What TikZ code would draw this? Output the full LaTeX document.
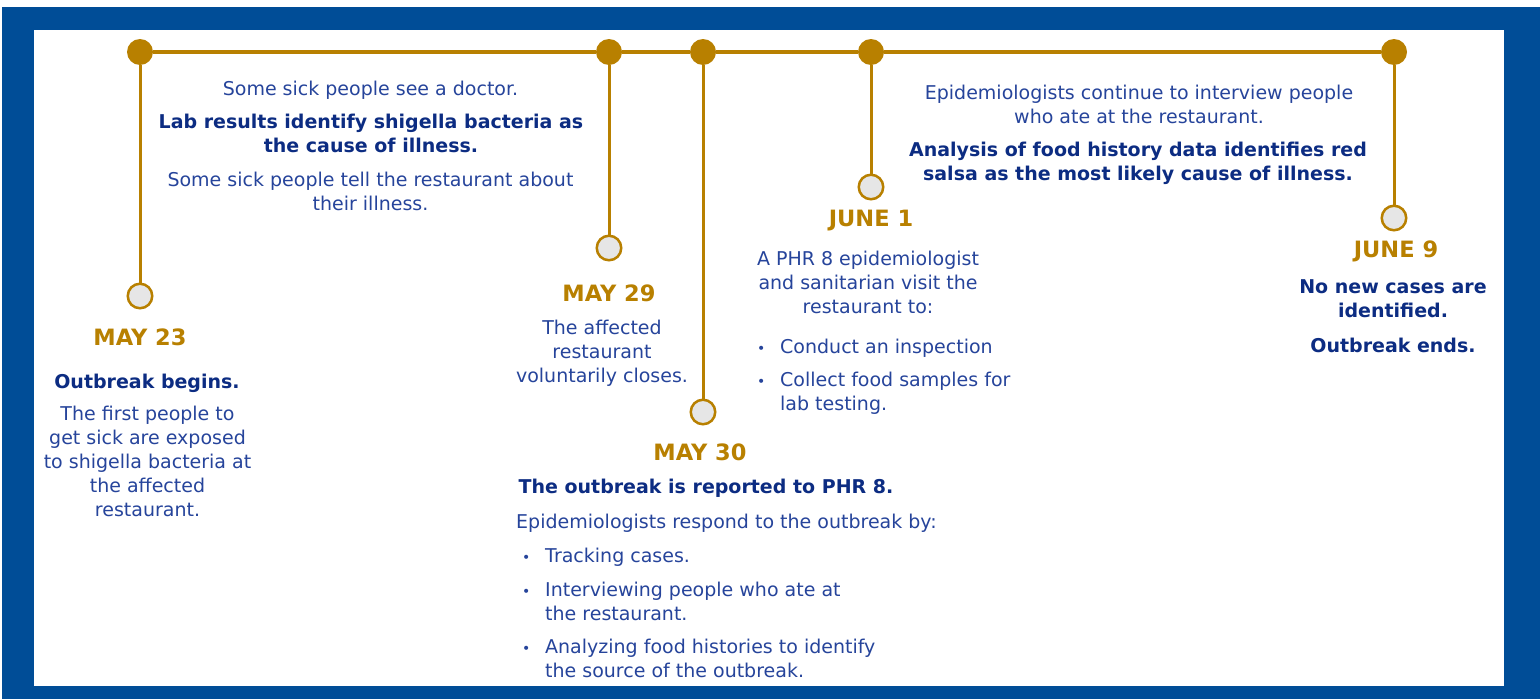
\documentclass[tikz,border=0pt]{standalone}
\usepackage{fontspec}
\setmainfont{DejaVu Sans}
\definecolor{gold}{RGB}{184,128,0}
\definecolor{navy}{RGB}{12,44,130}
\definecolor{txtblue}{RGB}{38,68,155}
\definecolor{frameblue}{RGB}{0,77,151}
\definecolor{ringgray}{RGB}{230,230,230}
\newcommand{\bul}{\makebox[23pt][l]{\fontsize{14}{24}\selectfont •}}
\newcommand{\bulgap}{\hspace*{23pt}}
\tikzset{
	topdot/.style={circle, fill=gold, inner sep=0pt, minimum size=26pt},
	ring/.style={circle, draw=gold, line width=2.5pt, fill=ringgray, inner sep=0pt, minimum size=24.5pt},
	mainline/.style={draw=gold, line width=4pt},
	stemline/.style={draw=gold, line width=3pt},
	datetxt/.style={font=\bfseries\fontsize{22.5}{26}\selectfont, text=gold, inner sep=0pt},
	bodytxt/.style={font=\fontsize{19}{24}\selectfont, text=txtblue, align=center, inner sep=0pt, anchor=north},
	headtxt/.style={font=\bfseries\fontsize{19}{24}\selectfont, text=navy, align=center, inner sep=0pt, anchor=north},
	itemtxt/.style={font=\fontsize{19}{24}\selectfont, text=txtblue, align=left, inner sep=0pt, anchor=north west}
}
\begin{document}
\begin{tikzpicture}[x=1pt, y=-1pt]
		%%%%% FRAME %%%%%
		\useasboundingbox (0, 0) rectangle (1540, 699);
		\fill[frameblue] (2, 7) rectangle (1540, 699);
		\fill[white] (34, 30) rectangle (1504, 686);
		
		%%%%% TIMELINE %%%%%
		\node[topdot] (dot23) at (140, 52) {};
		\node[topdot] (dot29) at (609, 52) {};
		\node[topdot] (dot30) at (703, 52) {};
		\node[topdot] (dot01) at (871, 52) {};
		\node[topdot] (dot09) at (1394, 52) {};
		
		\node[ring] (ring23) at (140, 296) {};
		\node[ring] (ring29) at (609, 248) {};
		\node[ring] (ring30) at (703, 412) {};
		\node[ring] (ring01) at (871, 187) {};
		\node[ring] (ring09) at (1394, 218) {};
		
		\draw[mainline] (dot23) -- (dot29) -- (dot30) -- (dot01) -- (dot09);
		\draw[stemline] (dot23) -- (ring23);
		\draw[stemline] (dot29) -- (ring29);
		\draw[stemline] (dot30) -- (ring30);
		\draw[stemline] (dot01) -- (ring01);
		\draw[stemline] (dot09) -- (ring09);
		
		%%%%% MAY 23 %%%%%
		\node[datetxt] (date23) at (140, 337) {MAY 23};
		\node[headtxt] (head23) at (147, 373.5) {Outbreak begins.};
		\node[bodytxt] (body23) at (147.5, 405.5) {The first people to\\get sick are exposed\\to shigella bacteria at\\the affected\\restaurant.};
		
		%%%%% MAY 23 - MAY 29 %%%%%
		\node[bodytxt] (doctor) at (370.5, 80.5) {Some sick people see a doctor.};
		\node[headtxt] (labres) at (371, 113.5) {Lab results identify shigella bacteria as\\the cause of illness.};
		\node[bodytxt] (tell) at (370.5, 171.5) {Some sick people tell the restaurant about\\their illness.};
		
		%%%%% MAY 29 %%%%%
		\node[datetxt] (date29) at (609, 293) {MAY 29};
		\node[bodytxt] (body29) at (602, 319.5) {The affected\\restaurant\\voluntarily closes.};
		
		%%%%% MAY 30 %%%%%
		\node[datetxt] (date30) at (700, 452) {MAY 30};
		\node[headtxt] (head30) at (706, 478.5) {The outbreak is reported to PHR 8.};
		\node[itemtxt] (resp30) at (516, 513.5) {Epidemiologists respond to the outbreak by:};
		\node[itemtxt] (track) at (522, 547.5) {\bul Tracking cases.};
		\node[itemtxt] (interv) at (522, 581.5) {\bul Interviewing people who ate at\\\bulgap the restaurant.};
		\node[itemtxt] (analyz) at (522, 638.5) {\bul Analyzing food histories to identify\\\bulgap the source of the outbreak.};
		
		%%%%% JUNE 1 %%%%%
		\node[datetxt] (date01) at (871, 221) {JUNE 1};
		\node[bodytxt] (body01) at (868, 250.5) {A PHR 8 epidemiologist\\and sanitarian visit the\\restaurant to:};
		\node[itemtxt] (inspect) at (757, 338.5) {\bul Conduct an inspection};
		\node[itemtxt] (collect) at (757, 371.5) {\bul Collect food samples for\\\bulgap lab testing.};
		
		%%%%% JUNE 1 - JUNE 9 %%%%%
		\node[bodytxt] (contin) at (1139, 84.5) {Epidemiologists continue to interview people\\who ate at the restaurant.};
		\node[headtxt] (salsa) at (1138, 141.5) {Analysis of food history data identifies red\\salsa as the most likely cause of illness.};
		
		%%%%% JUNE 9 %%%%%
		\node[datetxt] (date09) at (1396, 251) {JUNE 9};
		\node[headtxt] (head09) at (1393, 279.5) {No new cases are\\identified.};
		\node[headtxt] (ends) at (1393, 337.5) {Outbreak ends.};
		
\end{tikzpicture}
\end{document}
